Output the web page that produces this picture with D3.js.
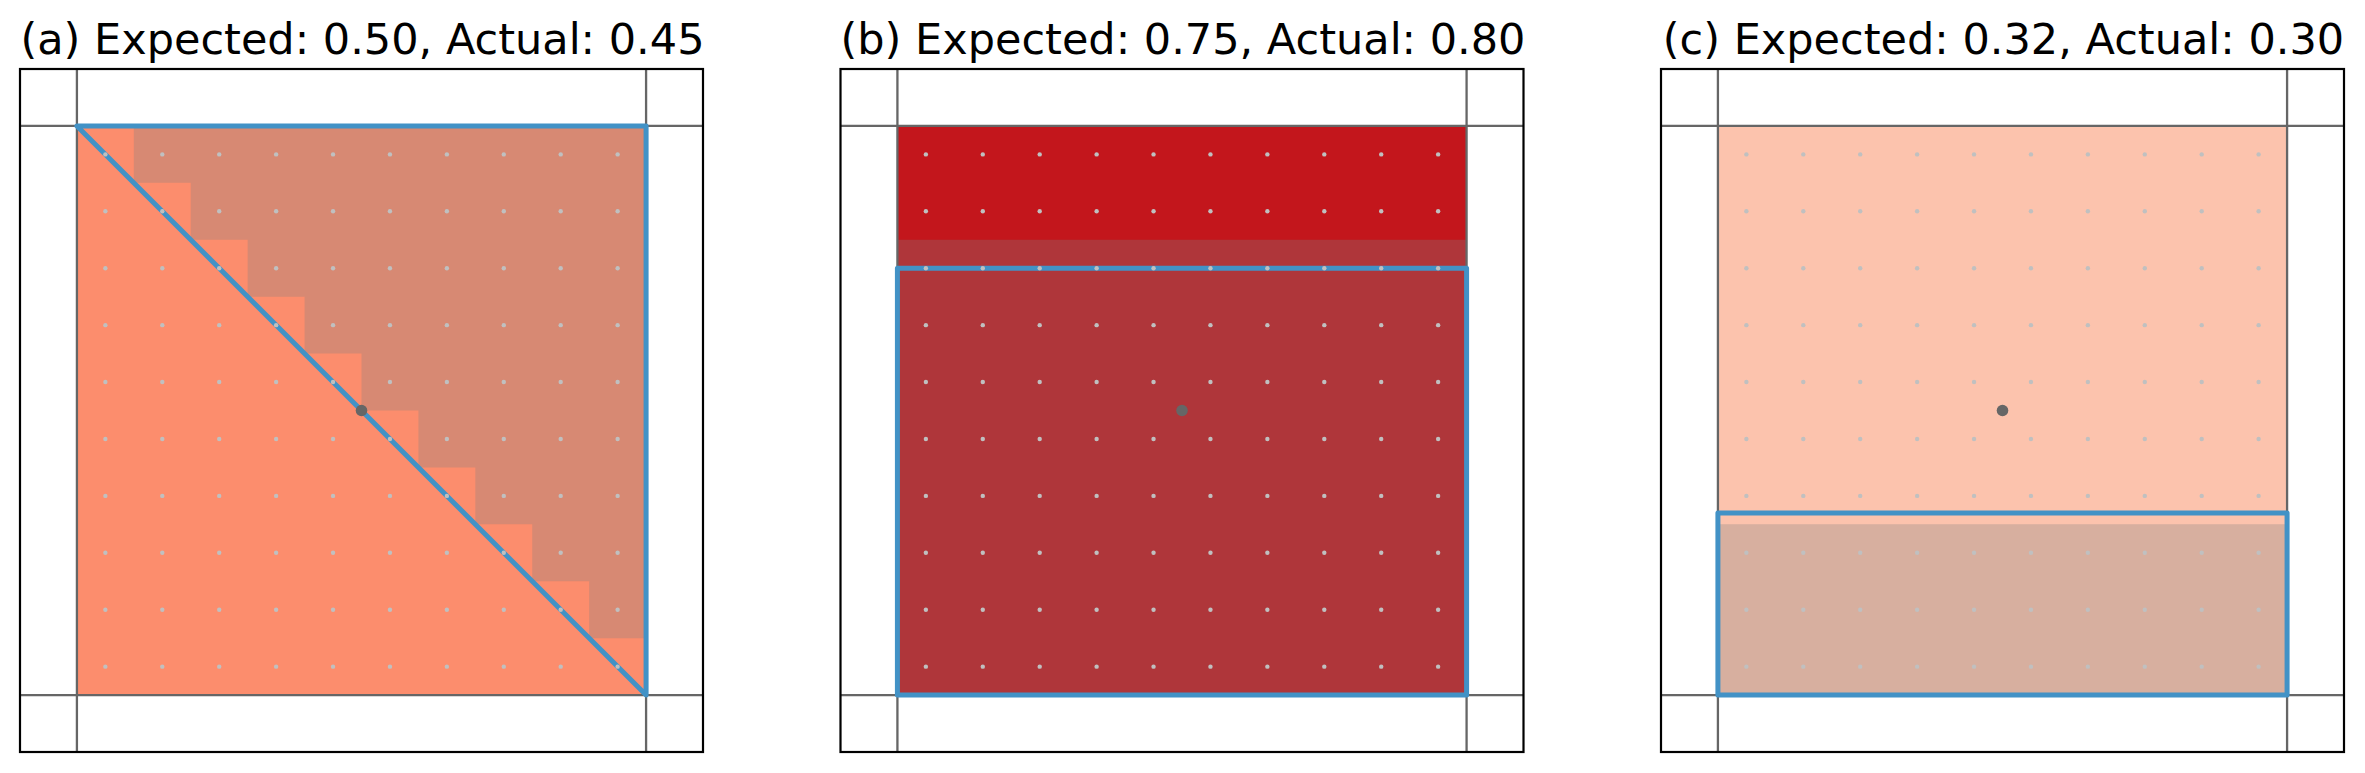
<!DOCTYPE html>
<html>
<head>
<meta charset="utf-8">
<script src="https://cdn.jsdelivr.net/npm/d3@7"></script>
<style>
  html, body { margin: 0; padding: 0; background: #fff; }
  svg { display: block; }
</style>
</head>
<body>
<script>
// panel data
const labels = ["(a)", "(b)", "(c)"];
const expected = [0.50, 0.75, 0.32];
const actual = [0.45, 0.80, 0.30];

// expected region outline for each panel, in data units
const expectedShapes = [
  [[0, 1], [1, 1], [1, 0]],
  [[0, 0], [1, 0], [1, 0.75], [0, 0.75]],
  [[0, 0], [1, 0], [1, 0.32], [0, 0.32]]
];

// filled cells per grid row (row 0 = bottom), counted from the right edge
const actualRows = [
  [0, 1, 2, 3, 4, 5, 6, 7, 8, 9],
  [10, 10, 10, 10, 10, 10, 10, 10, 0, 0],
  [10, 10, 10, 0, 0, 0, 0, 0, 0, 0]
];

// dot grid (cell centres)
const gridPts = [0.05, 0.15, 0.25, 0.35, 0.45, 0.55, 0.65, 0.75, 0.85, 0.95];
const center = [0.5, 0.5];

const baseColors = ["#fc8d6d", "#c3161c", "#fcc3ad"];

const width = 2365, height = 773;
const size = 683, panelTop = 69, left0 = 20, step = 820.5;
const cell = 0.1;

const svg = d3.select("body").append("svg")
  .attr("width", width)
  .attr("height", height)
  .attr("viewBox", [0, 0, width, height]);

const x = d3.scaleLinear().domain([-0.1, 1.1]).range([0, size]);
const y = d3.scaleLinear().domain([-0.1, 1.1]).range([size, 0]);

labels.forEach((lab, p) => {
  const g = svg.append("g")
    .attr("transform", `translate(${left0 + p * step},${panelTop})`);

  // base square
  g.append("rect")
    .attr("x", x(0)).attr("y", y(1))
    .attr("width", x(1) - x(0)).attr("height", y(0) - y(1))
    .attr("fill", baseColors[p]);

  // actual cells, as one path so rows don't seam
  const path = d3.path();
  actualRows[p].forEach((n, j) => {
    if (!n) return;
    const x0 = 1 - n * cell;
    path.rect(x(x0), y((j + 1) * cell), x(1) - x(x0), y(j * cell) - y((j + 1) * cell));
  });
  g.append("path")
    .attr("d", path.toString())
    .attr("fill", "#808080")
    .attr("fill-opacity", 0.3);

  // reference lines at 0 and 1
  [0, 1].forEach(v => {
    g.append("line")
      .attr("x1", x(v)).attr("x2", x(v))
      .attr("y1", 0).attr("y2", size)
      .attr("stroke", "#666").attr("stroke-width", 2.3);
    g.append("line")
      .attr("x1", 0).attr("x2", size)
      .attr("y1", y(v)).attr("y2", y(v))
      .attr("stroke", "#666").attr("stroke-width", 2.3);
  });

  // expected outline
  g.append("path")
    .attr("d", d3.line().x(d => x(d[0])).y(d => y(d[1]))(expectedShapes[p]) + "Z")
    .attr("fill", "none")
    .attr("stroke", "#4292c6")
    .attr("stroke-width", 5)
    .attr("stroke-linejoin", "round");

  // dot grid
  const pts = d3.cross(gridPts, gridPts);
  g.selectAll(".pt")
    .data(pts)
    .join("circle")
    .attr("class", "pt")
    .attr("cx", d => x(d[0]))
    .attr("cy", d => y(d[1]))
    .attr("r", 2.2)
    .attr("fill", "#c0c0c0");

  g.append("circle")
    .attr("cx", x(center[0]))
    .attr("cy", y(center[1]))
    .attr("r", 5.8)
    .attr("fill", "#666");

  // frame
  g.append("rect")
    .attr("x", 0).attr("y", 0)
    .attr("width", size).attr("height", size)
    .attr("fill", "none")
    .attr("stroke", "#000")
    .attr("stroke-width", 2.2);

  g.append("text")
    .attr("x", size / 2 + 1)
    .attr("y", 53.5 - panelTop)
    .attr("text-anchor", "middle")
    .attr("font-family", "DejaVu Sans")
    .attr("font-size", 43)
    .attr("fill", "#000")
    .text(`${lab} Expected: ${expected[p].toFixed(2)}, Actual: ${actual[p].toFixed(2)}`);
});
</script>
</body>
</html>
